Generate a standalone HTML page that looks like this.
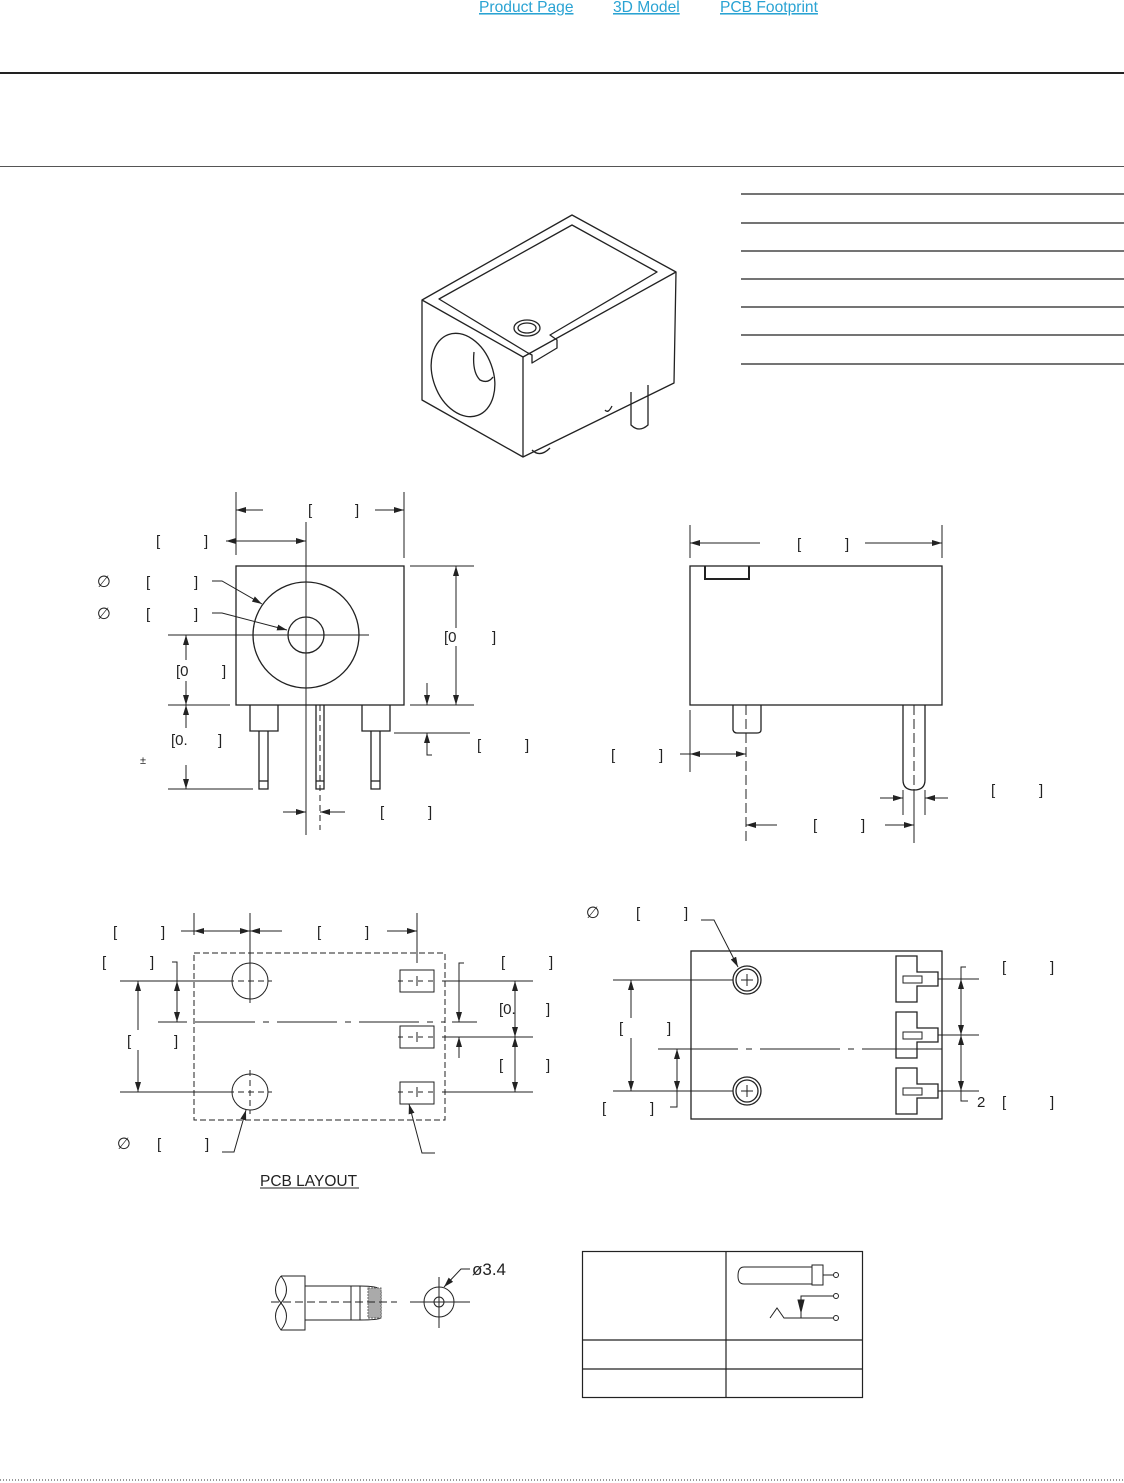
<!DOCTYPE html>
<html><head><meta charset="utf-8"><style>
html,body{margin:0;padding:0;background:#fff;width:1124px;height:1483px;overflow:hidden}
svg{display:block}
text{font-family:"Liberation Sans",sans-serif;fill:#222}
.l{stroke:#222;stroke-width:1;fill:none}
.b{stroke:#222;stroke-width:1.3;fill:none}
.d{stroke:#222;stroke-width:1;fill:none;stroke-dasharray:6,4}
.t{font-size:15px}
.p{font-family:"DejaVu Sans",sans-serif;font-size:16px;font-style:italic}
</style></head><body>
<svg width="1124" height="1483" viewBox="0 0 1124 1483" xmlns="http://www.w3.org/2000/svg">
<defs>
<marker id="a" viewBox="0 0 10 6" refX="10" refY="3" markerWidth="10" markerHeight="6" orient="auto-start-reverse" markerUnits="userSpaceOnUse"><path d="M0,0 L10,3 L0,6 z" fill="#222"/></marker>
</defs>
<!-- header -->
<g style="font-size:15.6px">
<text x="479" y="12" style="fill:#2aa3d3;text-decoration:underline">Product Page</text>
<text x="613" y="12" style="fill:#2aa3d3;text-decoration:underline">3D Model</text>
<text x="720" y="12" style="fill:#2aa3d3;text-decoration:underline">PCB Footprint</text>
</g>
<line x1="0" y1="73" x2="1124" y2="73" stroke="#222" stroke-width="2"/>
<line x1="0" y1="166.5" x2="1124" y2="166.5" stroke="#555" stroke-width="1"/>
<g stroke="#222" stroke-width="1.2">
<line x1="741" y1="194" x2="1124" y2="194"/><line x1="741" y1="223" x2="1124" y2="223"/>
<line x1="741" y1="251" x2="1124" y2="251"/><line x1="741" y1="279" x2="1124" y2="279"/>
<line x1="741" y1="307" x2="1124" y2="307"/><line x1="741" y1="335" x2="1124" y2="335"/>
<line x1="741" y1="364" x2="1124" y2="364"/>
</g>
<line x1="0" y1="1480" x2="1124" y2="1480" stroke="#333" stroke-width="1" stroke-dasharray="1,2"/>

<!-- isometric -->
<g class="b" stroke-linejoin="round">
<path d="M572,215 L676,272 L674,383 L523,457 L422,400 L422,300 Z"/>
<path d="M422,300 L523,357 L523,457"/>
<path d="M523,357 L676,272"/>
<path d="M439,299 L572,225 L657,272 L550,335 L557,340 L557,348 L532,363 L532,355 L528,353 Z"/>
<ellipse cx="527" cy="328" rx="13" ry="8"/><ellipse cx="527" cy="328" rx="9" ry="5"/>
<ellipse cx="463" cy="375" rx="30" ry="43" transform="rotate(-20 463 375)"/>
<path d="M474,352 Q472,372 480,380 Q488,384 493,377"/>
<path d="M631,392 L631,425 Q639,433 648,425 L648,385"/>
<path d="M532,450 Q540,458 550,448"/>
<path d="M605,410 Q608,414 612,406"/>
</g>

<!-- front view -->
<g class="b">
<rect x="236" y="566" width="168" height="139"/>
<circle cx="306" cy="635" r="53"/><circle cx="306" cy="635" r="18"/>
<path d="M250,705 V731 H278 V705"/><path d="M259,731 V789 H268 V731"/><line x1="259" y1="781" x2="268" y2="781"/>
<path d="M362,705 V731 H390 V705"/><path d="M371,731 V789 H380 V731"/><line x1="371" y1="781" x2="380" y2="781"/>
<path d="M316,705 V789 H324 V705"/><line x1="316" y1="781" x2="324" y2="781"/>
</g>
<g class="l">
<line x1="306" y1="522" x2="306" y2="835"/><line x1="320" y1="705" x2="320" y2="830" class="d"/>
<line x1="243" y1="635" x2="369" y2="635"/>
<line x1="236" y1="492" x2="236" y2="555"/><line x1="404" y1="492" x2="404" y2="558"/>
<line x1="263" y1="510" x2="236" y2="510" marker-end="url(#a)"/><line x1="375" y1="510" x2="404" y2="510" marker-end="url(#a)"/>
<line x1="226" y1="541" x2="306" y2="541" marker-start="url(#a)" marker-end="url(#a)"/>
<line x1="410" y1="566" x2="474" y2="566"/><line x1="410" y1="705" x2="474" y2="705"/>
<line x1="456" y1="566" x2="456" y2="628" marker-start="url(#a)"/><line x1="456" y1="646" x2="456" y2="705" marker-end="url(#a)"/>
<line x1="427" y1="683" x2="427" y2="705" marker-end="url(#a)"/>
<line x1="394" y1="733" x2="470" y2="733"/>
<path d="M432,755 H427 V733" marker-end="url(#a)"/>
<line x1="168" y1="635" x2="245" y2="635"/><line x1="168" y1="705" x2="230" y2="705"/><line x1="168" y1="789" x2="253" y2="789"/>
<line x1="186" y1="635" x2="186" y2="660" marker-start="url(#a)"/><line x1="186" y1="681" x2="186" y2="705" marker-end="url(#a)"/>
<line x1="186" y1="728" x2="186" y2="705" marker-end="url(#a)"/><line x1="186" y1="765" x2="186" y2="789" marker-end="url(#a)"/>
<line x1="283" y1="812" x2="306" y2="812" marker-end="url(#a)"/><line x1="345" y1="812" x2="320" y2="812" marker-end="url(#a)"/>
<path d="M212,581 H222 L262,604" marker-end="url(#a)"/>
<path d="M212,613 H222 L287,630" marker-end="url(#a)"/>
</g>
<g class="t">
<text x="308" y="515">[</text><text x="355" y="515">]</text>
<text x="156" y="546">[</text><text x="204" y="546">]</text>
<text x="97" y="587" class="p">∅</text><text x="146" y="587">[</text><text x="194" y="587">]</text>
<text x="97" y="619" class="p">∅</text><text x="146" y="619">[</text><text x="194" y="619">]</text>
<text x="444" y="642">[0</text><text x="492" y="642">]</text>
<text x="176" y="676">[0</text><text x="222" y="676">]</text>
<text x="171" y="745">[0.</text><text x="218" y="745">]</text>
<text x="140" y="764" style="font-size:11px">±</text>
<text x="477" y="750">[</text><text x="525" y="750">]</text>
<text x="380" y="817">[</text><text x="428" y="817">]</text>
</g>

<!-- side view -->
<g class="b">
<rect x="690" y="566" width="252" height="139"/>
<path d="M705,566 V579 H749 V566" stroke-width="2"/>
<path d="M733,705 V730 Q734,733 737,733 H757 Q761,733 761,730 V705"/>
<path d="M903,705 V780 Q903,790 914,790 Q925,790 925,780 V705"/>
</g>
<g class="l">
<line x1="746" y1="705" x2="746" y2="843" stroke-dasharray="10,4"/>
<line x1="914" y1="705" x2="914" y2="790" stroke-dasharray="10,4"/>
<line x1="690" y1="525" x2="690" y2="558"/><line x1="942" y1="525" x2="942" y2="558"/>
<line x1="760" y1="543" x2="690" y2="543" marker-end="url(#a)"/><line x1="865" y1="543" x2="942" y2="543" marker-end="url(#a)"/>
<line x1="690" y1="710" x2="690" y2="772"/>
<line x1="680" y1="754" x2="690" y2="754"/><line x1="690" y1="754" x2="746" y2="754" marker-start="url(#a)" marker-end="url(#a)"/>
<line x1="914" y1="790" x2="914" y2="843"/>
<line x1="777" y1="825" x2="746" y2="825" marker-end="url(#a)"/><line x1="885" y1="825" x2="914" y2="825" marker-end="url(#a)"/>
<line x1="903" y1="790" x2="903" y2="815"/><line x1="925" y1="790" x2="925" y2="815"/>
<line x1="880" y1="798" x2="903" y2="798" marker-end="url(#a)"/><line x1="948" y1="798" x2="925" y2="798" marker-end="url(#a)"/>
</g>
<g class="t">
<text x="797" y="549">[</text><text x="845" y="549">]</text>
<text x="611" y="760">[</text><text x="659" y="760">]</text>
<text x="991" y="795">[</text><text x="1039" y="795">]</text>
<text x="813" y="830">[</text><text x="861" y="830">]</text>
</g>

<!-- PCB layout -->
<g class="l">
<rect x="194" y="953" width="251" height="167" stroke-dasharray="6,3"/>
<circle cx="250" cy="981" r="18"/><circle cx="250" cy="1092" r="18"/>
<rect x="400" y="970" width="34" height="22"/><rect x="400" y="1026" width="34" height="22"/><rect x="400" y="1082" width="34" height="22"/>
<line x1="228" y1="981" x2="272" y2="981" stroke-dasharray="6,4"/><line x1="228" y1="1092" x2="272" y2="1092" stroke-dasharray="6,4"/>
<line x1="250" y1="1070" x2="250" y2="1114" stroke-dasharray="6,4"/><line x1="250" y1="990" x2="250" y2="1003" />
<line x1="398" y1="981" x2="436" y2="981" stroke-dasharray="5,5"/><line x1="398" y1="1037" x2="436" y2="1037" stroke-dasharray="5,5"/><line x1="398" y1="1092" x2="436" y2="1092" stroke-dasharray="5,5"/>
<line x1="417" y1="976" x2="417" y2="986"/><line x1="417" y1="1032" x2="417" y2="1042"/><line x1="417" y1="1087" x2="417" y2="1097"/>
<line x1="158" y1="1022" x2="187" y2="1022"/>
<line x1="195" y1="1022" x2="445" y2="1022" stroke-dasharray="60,8,6,8"/>
<line x1="452" y1="1022" x2="477" y2="1022"/>
<line x1="194" y1="913" x2="194" y2="935"/><line x1="250" y1="913" x2="250" y2="990"/><line x1="417" y1="913" x2="417" y2="963"/>
<line x1="181" y1="931" x2="194" y2="931"/><line x1="194" y1="931" x2="250" y2="931" marker-start="url(#a)" marker-end="url(#a)"/>
<line x1="282" y1="931" x2="250" y2="931" marker-end="url(#a)"/><line x1="387" y1="931" x2="417" y2="931" marker-end="url(#a)"/>
<line x1="120" y1="981" x2="232" y2="981"/><line x1="120" y1="1092" x2="232" y2="1092"/>
<line x1="138" y1="981" x2="138" y2="1030" marker-start="url(#a)"/><line x1="138" y1="1050" x2="138" y2="1092" marker-end="url(#a)"/>
<path d="M172,962 H177 V981"/><line x1="177" y1="981" x2="177" y2="1022" marker-start="url(#a)" marker-end="url(#a)"/>
<line x1="442" y1="981" x2="533" y2="981"/><line x1="442" y1="1037" x2="533" y2="1037"/><line x1="442" y1="1092" x2="533" y2="1092"/>
<line x1="515" y1="981" x2="515" y2="1037" marker-start="url(#a)" marker-end="url(#a)"/>
<line x1="515" y1="1037" x2="515" y2="1092" marker-start="url(#a)" marker-end="url(#a)"/>
<path d="M464,963 H459 V1022" marker-end="url(#a)"/>
<line x1="459" y1="1058" x2="459" y2="1037" marker-end="url(#a)"/>
<path d="M222,1152 H234 L246,1110" marker-end="url(#a)"/>
<path d="M435,1153 H422 L409,1104" marker-end="url(#a)"/>
<line x1="260" y1="1188" x2="359" y2="1188"/>
</g>
<g class="t">
<text x="113" y="937">[</text><text x="161" y="937">]</text>
<text x="317" y="937">[</text><text x="365" y="937">]</text>
<text x="102" y="967">[</text><text x="150" y="967">]</text>
<text x="501" y="967">[</text><text x="549" y="967">]</text>
<text x="499" y="1014">[0.</text><text x="546" y="1014">]</text>
<text x="127" y="1046">[</text><text x="174" y="1046">]</text>
<text x="499" y="1070">[</text><text x="546" y="1070">]</text>
<text x="117" y="1149" class="p">∅</text><text x="157" y="1149">[</text><text x="205" y="1149">]</text>
<text x="260" y="1186" style="font-size:15.5px">PCB LAYOUT</text>
</g>

<!-- bottom view -->
<g class="b">
<rect x="691" y="951" width="251" height="168"/>
<circle cx="747" cy="980" r="14"/><circle cx="747" cy="980" r="11"/>
<circle cx="747" cy="1091" r="14"/><circle cx="747" cy="1091" r="11"/>
<path d="M896,956 H917 V972 H938 V986 H917 V1002 H896 Z"/><rect x="903" y="976" width="19" height="7" stroke-width="1"/>
<path d="M896,1012 H917 V1028 H938 V1042 H917 V1058 H896 Z"/><rect x="903" y="1032" width="19" height="7" stroke-width="1"/>
<path d="M896,1068 H917 V1084 H938 V1098 H917 V1114 H896 Z"/><rect x="903" y="1088" width="19" height="7" stroke-width="1"/>
</g>
<g class="l">
<path d="M741,980 H753 M747,974 V986 M741,1091 H753 M747,1085 V1097"/>
<line x1="613" y1="980" x2="733" y2="980"/><line x1="613" y1="1091" x2="733" y2="1091"/>
<line x1="658" y1="1049" x2="942" y2="1049" stroke-dasharray="80,8,6,8"/>
<line x1="631" y1="980" x2="631" y2="1018" marker-start="url(#a)"/><line x1="631" y1="1038" x2="631" y2="1091" marker-end="url(#a)"/>
<line x1="677" y1="1049" x2="677" y2="1091" marker-start="url(#a)" marker-end="url(#a)"/>
<path d="M677,1091 V1107 H670"/>
<line x1="938" y1="979" x2="979" y2="979"/><line x1="938" y1="1035" x2="979" y2="1035"/><line x1="938" y1="1091" x2="979" y2="1091"/>
<path d="M966,967 H961 V979"/>
<line x1="961" y1="979" x2="961" y2="1035" marker-start="url(#a)" marker-end="url(#a)"/>
<line x1="961" y1="1035" x2="961" y2="1091" marker-start="url(#a)" marker-end="url(#a)"/>
<path d="M961,1091 V1101 H968"/>
<path d="M701,920 H714 L738,967" marker-end="url(#a)"/>
</g>
<g class="t">
<text x="586" y="918" class="p">∅</text><text x="636" y="918">[</text><text x="684" y="918">]</text>
<text x="1002" y="972">[</text><text x="1050" y="972">]</text>
<text x="619" y="1033">[</text><text x="667" y="1033">]</text>
<text x="977" y="1107">2</text><text x="1002" y="1107">[</text><text x="1050" y="1107">]</text>
<text x="602" y="1113">[</text><text x="650" y="1113">]</text>
</g>

<!-- plug -->
<g class="l">
<path d="M281,1276 H305 V1330 H281 Q270,1316 281,1303 Q292,1290 281,1276" />
<path d="M281,1276 Q270,1290 281,1303 Q292,1316 281,1330"/>
<path d="M305,1286 H360 Q378,1286 381,1290 V1318 Q378,1320 360,1320 H305"/>
<line x1="351" y1="1286" x2="351" y2="1320"/><line x1="360" y1="1286" x2="360" y2="1320"/>
<rect x="368" y="1288" width="13" height="30" fill="#aaa" stroke="#666" stroke-dasharray="2,1"/>
<line x1="271" y1="1302" x2="397" y2="1302" stroke-dasharray="8,4"/>
<circle cx="439" cy="1302" r="15"/><circle cx="439" cy="1302" r="5"/>
<line x1="439" y1="1277" x2="439" y2="1328"/><line x1="410" y1="1302" x2="470" y2="1302"/>
<path d="M470,1269 H461 L444,1287" marker-end="url(#a)"/>
</g>
<text x="472" y="1275" style="font-size:17px">ø3.4</text>

<!-- table -->
<g stroke="#222" stroke-width="1.2" fill="none">
<rect x="582.5" y="1251.5" width="280" height="146"/>
<line x1="726" y1="1251" x2="726" y2="1397"/>
<line x1="582" y1="1340" x2="862" y2="1340"/><line x1="582" y1="1369" x2="862" y2="1369"/>
</g>
<g class="l">
<path d="M812,1267 H744 Q738,1267 738,1276 Q738,1284 744,1284 H812"/>
<rect x="812" y="1265" width="11" height="20"/>
<line x1="823" y1="1275" x2="833" y2="1275"/><circle cx="836" cy="1275" r="2.5"/>
<path d="M770,1318 L777,1308 L784,1318 H833"/><circle cx="836" cy="1318" r="2.5"/>
<path d="M801,1318 V1296 H833"/><circle cx="836" cy="1296" r="2.5"/>
<path d="M798,1300 L801,1312 L804,1300 Z" fill="#222"/>
</g>
</svg>
</body></html>
